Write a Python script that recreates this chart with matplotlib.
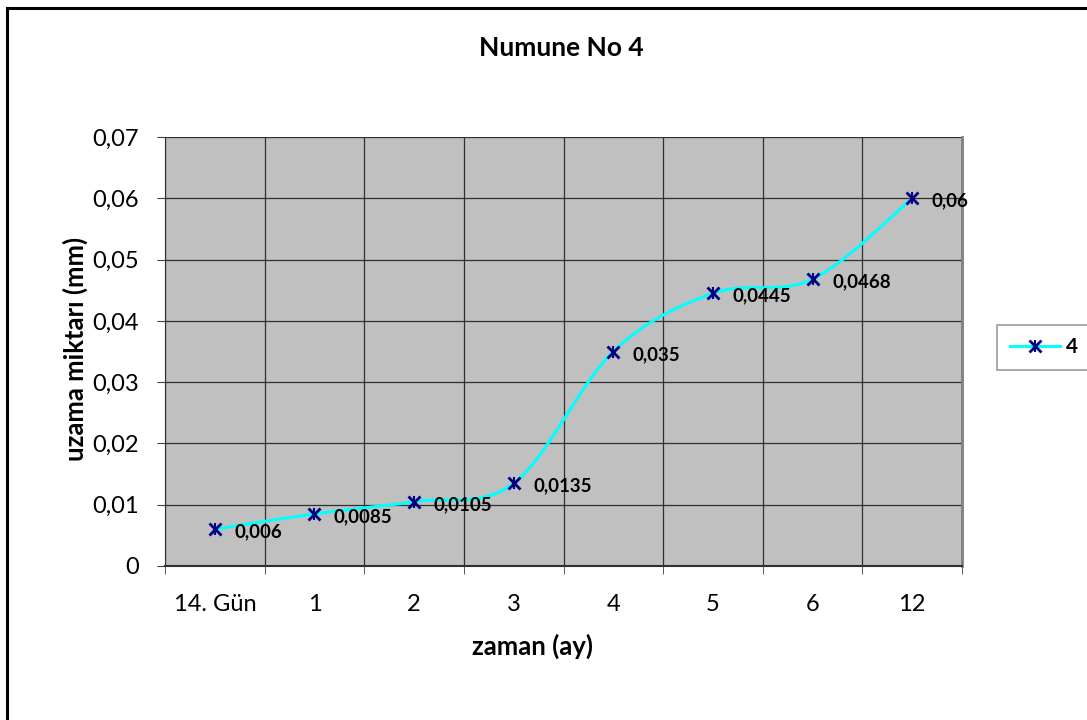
import numpy as np
import matplotlib
matplotlib.use("Agg")
import matplotlib.pyplot as plt
from matplotlib.lines import Line2D
from matplotlib.patches import Rectangle
from matplotlib.legend_handler import HandlerTuple

categories = ["14. Gün", "1", "2", "3", "4", "5", "6", "12"]
values = [0.006, 0.0085, 0.0105, 0.0135, 0.035, 0.0445, 0.0468, 0.06]
value_labels = ["0,006", "0,0085", "0,0105", "0,0135", "0,035", "0,0445", "0,0468", "0,06"]
yticks = [0, 0.01, 0.02, 0.03, 0.04, 0.05, 0.06, 0.07]
ytick_labels = ["0", "0,01", "0,02", "0,03", "0,04", "0,05", "0,06", "0,07"]
title = "Numune No 4"
xlabel = "zaman (ay)"
ylabel = "uzama miktarı (mm)"
series_name = "4"

plt.rcParams['font.family'] = ['Lato', 'DejaVu Sans']

W, H = 1087, 720
fig = plt.figure(figsize=(W / 100, H / 100), dpi=100)

# outer chart border (extends beyond right/bottom edges)
fig.patches.append(Rectangle((7 / W, -0.05), 1.2, 1 - 8 / H + 0.05, transform=fig.transFigure,
                             fill=False, edgecolor='black', linewidth=2.2, zorder=0))

ax = fig.add_axes([165 / W, 1 - 566 / H, (962 - 165) / W, (566 - 137) / H])
ax.set_facecolor('#C0C0C0')

x = np.arange(len(values), dtype=float)
y = np.array(values)

# Excel-like smoothed line: Catmull-Rom via cubic Bezier
px, py = [], []
n = len(x)
for i in range(n - 1):
    p0 = np.array([x[max(i - 1, 0)], y[max(i - 1, 0)]])
    p1 = np.array([x[i], y[i]])
    p2 = np.array([x[i + 1], y[i + 1]])
    p3 = np.array([x[min(i + 2, n - 1)], y[min(i + 2, n - 1)]])
    c1 = p1 + (p2 - p0) / 6.0
    c2 = p2 - (p3 - p1) / 6.0
    t = np.linspace(0, 1, 40)[:, None]
    seg = ((1 - t) ** 3) * p1 + 3 * ((1 - t) ** 2) * t * c1 + 3 * (1 - t) * t ** 2 * c2 + t ** 3 * p2
    if i > 0:
        seg = seg[1:]
    px.extend(seg[:, 0])
    py.extend(seg[:, 1])

ax.plot(px, py, color='#00FFFF', linewidth=2.2, zorder=3, solid_capstyle='round')
ax.plot(x, y, linestyle='none', marker='x', markersize=8, markeredgewidth=2, color='#000080', zorder=4)
ax.plot(x, y, linestyle='none', marker='|', markersize=8, markeredgewidth=1.5, color='#000080', zorder=4)

for xi, yi, lab in zip(x, y, value_labels):
    ax.annotate(lab, (xi, yi), xytext=(14, -2), textcoords='offset points',
                ha='left', va='center', fontsize=13.5, fontweight='bold', color='black', zorder=5)

ax.set_xlim(-0.5, n - 0.5)
ax.set_ylim(0, 0.07)
ax.set_yticks(yticks)
ax.set_yticklabels(ytick_labels)
ax.set_xticks(x)
ax.set_xticklabels(categories)
ax.set_xticks(np.arange(-0.5, n, 1.0), minor=True)

ax.tick_params(axis='x', which='major', length=0, pad=20, labelsize=17)
ax.tick_params(axis='x', which='minor', length=6, direction='out', color='#404040')
ax.tick_params(axis='y', length=6, direction='out', color='#404040', labelsize=17, pad=13)

ax.grid(True, axis='y', which='major', color='#303030', linewidth=0.9, zorder=1)
ax.grid(True, axis='x', which='minor', color='#303030', linewidth=0.9, zorder=1)
ax.set_axisbelow(True)

ax.spines['top'].set_visible(False)
ax.spines['right'].set_color('#808080')
ax.spines['right'].set_linewidth(2)
ax.spines['left'].set_color('#303030')
ax.spines['bottom'].set_color('#303030')
ax.spines['bottom'].set_linewidth(1.5)

ax.set_xlabel(xlabel, fontsize=18.5, fontweight='bold', va='center')
ax.xaxis.set_label_coords((532 - 165) / 797, (566 - 646) / 429)
ax.set_ylabel(ylabel, fontsize=18.5, fontweight='bold', va='center')
ax.yaxis.set_label_coords((75 - 165) / 797, (566 - 349) / 429)
fig.text(561 / W, 1 - 48 / H, title, ha='center', va='center', fontsize=19, fontweight='bold')

# legend
h_line = Line2D([], [], color='#00FFFF', linewidth=2.2, marker='x', markersize=8,
                markeredgewidth=2, markeredgecolor='#000080')
h_bar = Line2D([], [], linestyle='none', marker='|', markersize=8,
               markeredgewidth=1.5, markeredgecolor='#000080')
leg = fig.legend([(h_line, h_bar)], [series_name], loc='center left',
                 handler_map={tuple: HandlerTuple(ndivide=1, pad=0)},
                 bbox_to_anchor=(997 / W, 1 - 347 / H), frameon=True, fancybox=False,
                 edgecolor='#808080', handlelength=2.4, handletextpad=0.3,
                 borderpad=0.6, prop={'size': 15, 'weight': 'bold'}, borderaxespad=0)
leg.get_frame().set_linewidth(1.2)

fig.savefig('out.png', dpi=100)
